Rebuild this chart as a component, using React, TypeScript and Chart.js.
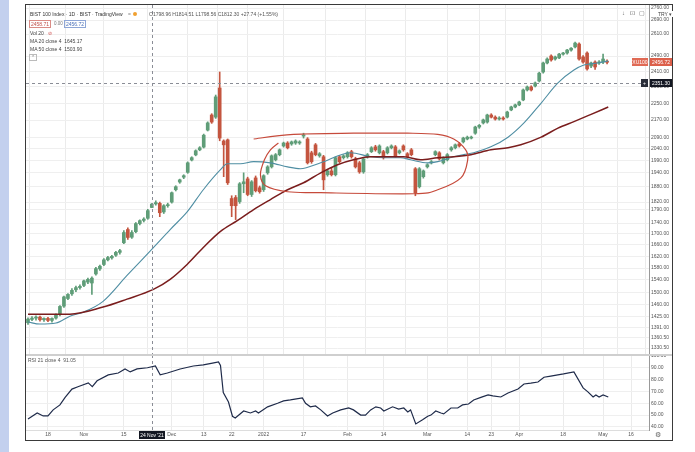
import React, { useEffect, useRef } from 'react';
import { Chart, registerables } from 'chart.js';
Chart.register(...registerables);

const FONT = '"Liberation Sans", Arial, sans-serif';

// ---- candles (daily, index 0 = 11 Oct 2021) ----
const opens = [1405,1415,1419,1422,1414,1418,1412,1419,1430,1456,1480,1495,1508,1515,1522,1533,1530,1560,1577,1592,1608,1615,1624,1634,1668,1716,1688,1708,1738,1750,1758,1798.96,1813,1815,1782,1806,1820,1869,1900,1920,1940,1992,2014,2036,2048,2124,2194,2184,2325,2075,2080,1834,1838,1822,1893,1913,1850,1917,1877,1869,1938,1963,1993,2015,2053,2066,2062,2066,2066,2097,2084,2023,2058,2010,2006,1930,1946,1930,2006,2002,2006,2028,1997,1980,1942,2006,2028,2049,2023,2028,2023,2045,2049,2023,2053,2019,2036,1955,1881,1922,1963,1980,2015,2023,1980,1993,2036,2045,2062,2071,2084,2088,2110,2138,2157,2161,2194,2184,2175,2180,2184,2218,2232,2242,2266,2315,2330,2335,2360,2406,2453,2490,2474,2480,2500,2506,2522,2539,2555,2485,2506,2437,2458,2453,2458,2462];
const highs = [1420,1424,1426,1425,1420,1421,1420,1432,1458,1488,1496,1512,1520,1524,1540,1546,1550,1582,1590,1612,1620,1624,1638,1645,1712,1722,1712,1742,1752,1760,1792,1814.51,1825,1820,1810,1816,1860,1885,1912,1930,1984,2006,2036,2050,2106,2162,2200,2290,2406,2080,2084,1845,1846,1898,1938,1920,1906,1925,1884,1930,1968,2014,2020,2040,2070,2072,2075,2080,2076,2110,2090,2030,2064,2024,2012,1952,1960,2006,2012,2015,2028,2034,2004,1986,2002,2020,2050,2056,2058,2034,2050,2058,2055,2036,2058,2024,2042,1960,1960,1950,1976,1990,2032,2028,2006,2020,2050,2062,2068,2092,2097,2097,2142,2150,2175,2198,2200,2190,2186,2186,2212,2236,2246,2260,2320,2335,2336,2355,2405,2458,2480,2496,2490,2504,2510,2526,2536,2566,2562,2492,2512,2458,2464,2466,2500,2470];
const lows = [1400,1411,1413,1410,1409,1408,1407,1416,1426,1452,1476,1490,1502,1510,1518,1528,1493,1556,1572,1588,1604,1610,1620,1628,1665,1680,1684,1704,1733,1744,1754,1798.56,1808,1764,1776,1800,1816,1864,1895,1914,1936,1988,2010,2032,2044,2120,2155,2178,2076,1922,1890,1764,1753,1815,1857,1845,1842,1860,1855,1862,1932,1958,1988,2010,2048,2040,2056,2060,2060,2088,1975,1978,2010,2004,1869,1924,1925,1925,1980,1996,2000,2000,1958,1936,1936,2000,2024,2030,2018,1996,2018,2040,2004,2018,2030,2000,2010,1845,1876,1916,1958,1975,2010,1992,1975,1988,2030,2040,2048,2066,2080,2084,2105,2132,2152,2156,2180,2170,2170,2170,2180,2214,2228,2238,2262,2310,2310,2330,2355,2400,2448,2462,2468,2476,2494,2500,2516,2534,2468,2452,2415,2428,2420,2446,2450,2448];
const closes = [1416,1419,1422,1414,1418,1412,1418,1428,1455,1485,1493,1506,1515,1519,1537,1542,1546,1578,1586,1608,1616,1620,1634,1640,1705,1687,1705,1738,1749,1755,1787,1812.30,1818,1779,1806,1810,1857,1881,1909,1926,1980,2002,2032,2045,2101,2157,2161,2281,2088,2058,1897,1806,1806,1893,1901,1850,1901,1865,1861,1926,1963,2010,2015,2036,2066,2045,2071,2075,2071,2099,1980,1985,2015,2019,1909,1946,1930,2002,1985,2010,2023,2006,1963,1942,1997,2015,2045,2036,2053,2002,2045,2053,2010,2032,2036,2006,2015,1857,1955,1946,1972,1985,2028,1997,2002,2015,2045,2058,2053,2088,2092,2092,2138,2146,2171,2194,2184,2175,2180,2175,2208,2232,2242,2256,2315,2330,2315,2350,2400,2453,2474,2469,2485,2500,2506,2522,2532,2560,2474,2458,2422,2453,2432,2458,2474,2456.72];

// ---- moving averages (read points: candle index, value) ----
const ma20Idx = [0,3,7,10.5,13.8,18.8,24.8,31.4,35.6,39.9,43.9,48.2,49.9,53.2,56.5,60.7,65,68.2,73.3,80.8,85.8,89.1,93.3,95.8,100.1,102.6,106.6,109.1,111.6,115.9,120.2,124.2,128.5,132.7,136.7,139.2,142.7,145.3];
const ma20Val = [1407,1401,1404,1425,1437,1471,1555,1651,1716,1783,1869,1951,1976,1976,1985,1980,1963,1955,1980,2023,2006,2002,2002,1993,1980,1985,2006,2015,2023,2049,2092,2157,2251,2350,2416,2442,2453,2464];
const ma50Idx = [0,10.5,18.8,24.8,31.4,35.6,39.9,43.9,48.2,52.4,56.5,60.7,65,69,73.3,77.5,81.5,85.8,90.1,94.1,98.3,102.6,106.6,110.9,115.9,120.2,123.4,128.5,132.7,136.7,141,145.3];
const ma50Val = [1431,1431,1453,1478,1509,1542,1593,1651,1709,1749,1791,1830,1869,1897,1938,1972,1993,2006,2006,2006,1993,2002,2006,2015,2036,2045,2058,2092,2133,2163,2197,2232];

// ---- RSI 21 (read points) ----
const rsiIdx = [0,2.3,3.8,5,6.3,8,9.3,11,12.5,15.1,16.1,17.3,20.1,22.6,24.3,25.6,27.3,29.9,31.9,33.1,34.9,38.1,41.4,43.9,46.2,47.7,48.2,48.9,50.2,51.2,51.9,54,55.7,57,57.7,60,62.5,64,65.7,68.7,69.5,70.7,72,73.3,75,76.3,78.3,80.3,81.5,83.3,84.5,85.8,87.1,88.3,89.1,91.3,92.8,94.1,95.1,95.8,97.1,98.8,100.1,100.9,102.1,103.4,104.1,105.9,107.6,108.8,110.3,111.6,113.4,115.2,116.4,118.4,120.2,122.7,124.2,125.9,127.7,129.2,130.9,134.1,136.7,139,140.2,141.5,142.2,143,144,145.3];
const rsiVal = [46.7,51.8,49.3,49.3,54.4,58.6,65,72,74,77.2,74,79,84,85.6,89,86.5,89,90,91.5,84,85.6,89,91.5,92.4,94,95,92,69,61,49,47.6,53.5,51.8,53.5,51.8,57,60,62,62.8,64.5,60,57,57.7,54.4,49.3,51.8,54.4,56,54.4,50,50,54.4,57,56,53.5,57,55,56,52.7,54.4,42.5,46,49,50,53.5,51.8,51,56,56,58.6,59.4,62.8,65,67,66.2,65.3,68.7,72,76.3,77,78,82,83,84.8,86.5,73,69.6,65.3,67,65.3,67,65.3];

// ---- axes ----
const priceTicks = [2760,2690,2610,2490,2410,2330,2250,2170,2090,2040,1990,1940,1880,1820,1790,1740,1700,1660,1620,1580,1540,1500,1460,1425,1391,1360.5,1330.5];
const rsiTicks = [40,50,60,70,80,90,100];
const tickIdx = [5,14,24,36,44,51,59,69,80,89,100,110,116,123,134,144,151];
const tickText = ['18','Nov','15','Dec','13','22','2022','17','Feb','14','Mar','14','23','Apr','18','May','16'];

// ---- annotations ----
const crossIdx = 31;
const crossPrice = 2351.3;
const crossDate = "24 Nov '21";
const ringIdx = [56.5,66.5,81.5,95,102.6,106.6,109.6,110.1,108.4,102.6,96.6,73.3,65,59.5,58.2,59.2,60.7,62.7];
const ringPrice = [2084,2105,2110,2110,2105,2084,2036,1993,1917,1869,1853,1857,1861,1885,1930,1993,2036,2066];

const UP = '#5f9d78';
const DOWN = '#c4553f';
const X_MIN = -0.5;
const X_MAX = 155.5;

function smoothPath(ctx: CanvasRenderingContext2D, pts: number[][]) {
  ctx.beginPath();
  ctx.moveTo(pts[0][0], pts[0][1]);
  for (let i = 0; i < pts.length - 1; i++) {
    const p0 = pts[i - 1] || pts[i];
    const p1 = pts[i];
    const p2 = pts[i + 1];
    const p3 = pts[i + 2] || p2;
    ctx.bezierCurveTo(
      p1[0] + (p2[0] - p0[0]) / 6, p1[1] + (p2[1] - p0[1]) / 6,
      p2[0] - (p3[0] - p1[0]) / 6, p2[1] - (p3[1] - p1[1]) / 6,
      p2[0], p2[1]
    );
  }
  ctx.stroke();
}

function label(ctx: CanvasRenderingContext2D, text: string, x: number, y: number, w: number, bg: string) {
  ctx.fillStyle = bg;
  ctx.fillRect(x, y - 4, w, 8);
  ctx.fillStyle = '#ffffff';
  ctx.font = `5px ${FONT}`;
  ctx.textBaseline = 'middle';
  ctx.textAlign = 'center';
  ctx.fillText(text, x + w / 2, y + 0.5);
}

const mainOverlay = {
  id: 'mainOverlay',
  afterDatasetsDraw(chart: any) {
    const { ctx, chartArea: a, scales } = chart;
    const x = scales.x, y = scales.y;
    ctx.save();
    ctx.beginPath();
    ctx.rect(a.left, a.top, a.right - a.left, a.bottom - a.top);
    ctx.clip();
    ctx.strokeStyle = '#c64a3b';
    ctx.lineWidth = 1.2;
    smoothPath(ctx, ringIdx.map((v, k) => [x.getPixelForValue(v), y.getPixelForValue(ringPrice[k])]));
    ctx.setLineDash([3, 3]);
    ctx.strokeStyle = '#8a8d96';
    ctx.lineWidth = 1;
    const yc = Math.round(y.getPixelForValue(crossPrice)) + 0.5;
    const xc = Math.round(x.getPixelForValue(crossIdx)) + 0.5;
    ctx.beginPath(); ctx.moveTo(a.left, yc); ctx.lineTo(a.right, yc); ctx.stroke();
    ctx.beginPath(); ctx.moveTo(xc, a.top); ctx.lineTo(xc, a.bottom); ctx.stroke();
    ctx.restore();
  },
  afterDraw(chart: any) {
    const { ctx, chartArea: a, scales } = chart;
    const y = scales.y;
    ctx.save();
    const last = closes[closes.length - 1];
    const yl = Math.round(y.getPixelForValue(last));
    label(ctx, last.toFixed(2), a.right + 1, yl, 22, '#dc5f4a');
    label(ctx, 'XU100', a.right - 17, yl, 16, '#e06a55');
    const yc = Math.round(y.getPixelForValue(crossPrice));
    label(ctx, crossPrice.toFixed(2), a.right + 1, yc, 22, '#131722');
    label(ctx, '+', a.right - 8, yc, 7, '#2a2e39');
    ctx.restore();
  },
};

const rsiOverlay = {
  id: 'rsiOverlay',
  afterDatasetsDraw(chart: any) {
    const { ctx, chartArea: a, scales } = chart;
    const xc = Math.round(scales.x.getPixelForValue(crossIdx)) + 0.5;
    ctx.save();
    ctx.setLineDash([3, 3]);
    ctx.strokeStyle = '#8a8d96';
    ctx.lineWidth = 1;
    ctx.beginPath(); ctx.moveTo(xc, a.top); ctx.lineTo(xc, a.bottom); ctx.stroke();
    ctx.restore();
  },
  afterDraw(chart: any) {
    const { ctx, chartArea: a, scales } = chart;
    const xc = Math.round(scales.x.getPixelForValue(crossIdx));
    ctx.save();
    label(ctx, crossDate, xc - 13, a.bottom + 5, 26, '#131722');
    ctx.restore();
  },
};

const txt: React.CSSProperties = {
  position: 'absolute', fontSize: 5, lineHeight: '6px', whiteSpace: 'nowrap', color: '#444', fontFamily: FONT,
};

export default function App() {
  const mainRef = useRef<HTMLCanvasElement>(null);
  const rsiRef = useRef<HTMLCanvasElement>(null);

  useEffect(() => {
    const colors = opens.map((o, i) => (closes[i] >= o ? UP : DOWN));
    const bodies = opens.map((o, i) => ({ x: i, y: [Math.min(o, closes[i]), Math.max(o, closes[i])] }));
    const wicks = opens.map((_, i) => ({ x: i, y: [lows[i], highs[i]] }));
    const ma20 = ma20Idx.map((v, k) => ({ x: v, y: ma20Val[k] }));
    const ma50 = ma50Idx.map((v, k) => ({ x: v, y: ma50Val[k] }));
    const rsi = rsiIdx.map((v, k) => ({ x: v, y: rsiVal[k] }));

    const xAxisBase: any = {
      type: 'linear', min: X_MIN, max: X_MAX, offset: false,
      afterBuildTicks: (s: any) => { s.ticks = tickIdx.map((v) => ({ value: v })); },
      grid: { color: '#ebebeb', drawTicks: false },
    };

    const main = new Chart(mainRef.current as HTMLCanvasElement, {
      type: 'bar',
      data: {
        datasets: [
          { type: 'line', data: ma50, borderColor: '#7a1d1d', borderWidth: 1.5, pointRadius: 0, cubicInterpolationMode: 'monotone', order: 0 } as any,
          { type: 'line', data: ma20, borderColor: '#4f8ea3', borderWidth: 1.1, pointRadius: 0, cubicInterpolationMode: 'monotone', order: 1 } as any,
          { type: 'bar', data: bodies, backgroundColor: colors, barThickness: 3, grouped: false, minBarLength: 1, borderWidth: 0, order: 2 } as any,
          { type: 'bar', data: wicks, backgroundColor: colors, barThickness: 1, grouped: false, borderWidth: 0, order: 3 } as any,
        ],
      },
      options: {
        responsive: false, animation: false, devicePixelRatio: 1, events: [],
        layout: { padding: 0 },
        plugins: { legend: { display: false }, tooltip: { enabled: false } },
        scales: {
          x: {
            ...xAxisBase,
            ticks: { display: false },
            border: { display: false },
            afterFit: (s: any) => { s.height = 0; s.paddingLeft = 0; s.paddingRight = 0; },
          },
          y: {
            type: 'logarithmic', position: 'right', min: 1311, max: 2778,
            afterBuildTicks: (s: any) => { s.ticks = priceTicks.map((v) => ({ value: v })); },
            ticks: { autoSkip: false, font: { size: 5, family: FONT }, color: '#555', padding: 2, callback: (v: any) => Number(v).toFixed(2) },
            grid: { color: '#efefef', drawTicks: false },
            border: { display: true, color: '#999' },
            afterFit: (s: any) => { s.width = 23; s.paddingTop = 0; s.paddingBottom = 0; },
          },
        },
      } as any,
      plugins: [mainOverlay],
    });

    const rsiChart = new Chart(rsiRef.current as HTMLCanvasElement, {
      type: 'line',
      data: {
        datasets: [
          { data: rsi, borderColor: '#1f2b4a', borderWidth: 1.2, pointRadius: 0, tension: 0 } as any,
        ],
      },
      options: {
        responsive: false, animation: false, devicePixelRatio: 1, events: [],
        layout: { padding: 0 },
        plugins: { legend: { display: false }, tooltip: { enabled: false } },
        scales: {
          x: {
            ...xAxisBase,
            ticks: { autoSkip: false, maxRotation: 0, font: { size: 5, family: FONT }, color: '#555', padding: 2, callback: (_v: any, i: number) => tickText[i] },
            border: { display: true, color: '#dddddd' },
            afterFit: (s: any) => { s.height = 10; s.paddingLeft = 0; s.paddingRight = 0; },
          },
          y: {
            type: 'linear', position: 'right', min: 37.4, max: 100.8,
            afterBuildTicks: (s: any) => { s.ticks = rsiTicks.map((v) => ({ value: v })); },
            ticks: { autoSkip: false, font: { size: 5, family: FONT }, color: '#555', padding: 2, callback: (v: any) => Number(v).toFixed(2) },
            grid: { color: '#efefef', drawTicks: false },
            border: { display: true, color: '#999' },
            afterFit: (s: any) => { s.width = 23; s.paddingTop = 0; s.paddingBottom = 0; },
          },
        },
      } as any,
      plugins: [rsiOverlay],
    });

    return () => { main.destroy(); rsiChart.destroy(); };
  }, []);

  return (
    <div style={{ position: 'fixed', left: 0, top: 0, width: 695, height: 452, background: '#ffffff', overflow: 'hidden', fontFamily: FONT }}>
      <div style={{ position: 'absolute', left: 0, top: 0, width: 9, height: 452, background: '#c3d0ee' }} />
      <canvas ref={mainRef} width={646} height={350} style={{ position: 'absolute', left: 26, top: 5 }} />
      <canvas ref={rsiRef} width={646} height={85} style={{ position: 'absolute', left: 26, top: 355 }} />
      <div style={{ position: 'absolute', left: 26, top: 354, width: 646, height: 2, background: '#cfcfcf' }} />
      <div style={{ position: 'absolute', left: 25, top: 4, width: 648, height: 437, border: '1px solid #3a3a3a', boxSizing: 'border-box', pointerEvents: 'none' }} />

      <div style={{ ...txt, left: 30, top: 11, color: '#333' }}>BIST 100 Index · 1D · BIST · TradingView</div>
      <div style={{ ...txt, left: 128, top: 11, color: '#888' }}>=</div>
      <div style={{ position: 'absolute', left: 133, top: 12, width: 4, height: 4, borderRadius: 2, background: '#f0a030' }} />
      <div style={{ ...txt, left: 149, top: 11, color: '#555' }}>O1798.96 H1814.51 L1798.56 C1812.30 +27.74 (+1.55%)</div>

      <div style={{ ...txt, left: 29, top: 20, border: '1px solid #d98c86', color: '#c0504a', padding: '0 1px', lineHeight: '6px' }}>2458.71</div>
      <div style={{ ...txt, left: 54, top: 21, color: '#777', fontSize: 4.5 }}>0.00</div>
      <div style={{ ...txt, left: 64, top: 20, border: '1px solid #8ea6d6', color: '#4a6fb8', padding: '0 1px', lineHeight: '6px' }}>2456.72</div>
      <div style={{ ...txt, left: 30, top: 30 }}>Vol 20</div>
      <div style={{ ...txt, left: 48, top: 30, color: '#d05050' }}>⊘</div>
      <div style={{ ...txt, left: 30, top: 38 }}>MA 20 close 4 &nbsp;1645.17</div>
      <div style={{ ...txt, left: 30, top: 46 }}>MA 50 close 4 &nbsp;1503.90</div>
      <div style={{ ...txt, left: 29, top: 54, border: '1px solid #bbb', color: '#777', padding: '0 1px', lineHeight: '5px' }}>⌃</div>

      <div style={{ ...txt, left: 622, top: 10, color: '#666', fontSize: 6 }}>↓</div>
      <div style={{ ...txt, left: 630, top: 10, color: '#666', fontSize: 6 }}>⊡</div>
      <div style={{ ...txt, left: 639, top: 10, color: '#666', fontSize: 6 }}>▢</div>
      <div style={{ ...txt, left: 656, top: 11, color: '#444', background: '#fff', padding: '0 2px' }}>TRY ▾</div>

      <div style={{ ...txt, left: 28, top: 357, color: '#555' }}>RSI 21 close 4 &nbsp;91.05</div>
      <div style={{ ...txt, left: 655, top: 431, color: '#666', fontSize: 7, lineHeight: '8px' }}>⚙</div>
    </div>
  );
}
